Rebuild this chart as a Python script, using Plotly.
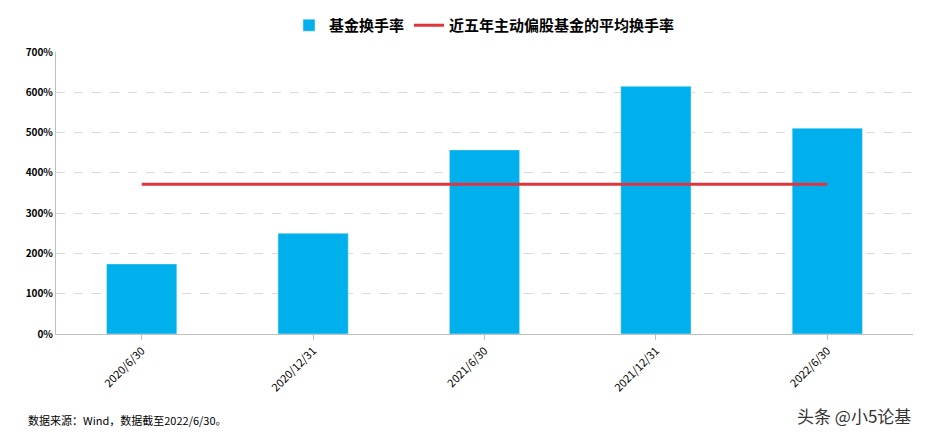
import plotly.graph_objects as go

categories = ["2020/6/30", "2020/12/31", "2021/6/30", "2021/12/31", "2022/6/30"]
turnover = [174, 250, 457, 615, 511]
avg_turnover = [372, 372, 372, 372, 372]
tick_vals = [0, 100, 200, 300, 400, 500, 600, 700]
tick_text = ["<b>0%</b>", "<b>100%</b>", "<b>200%</b>", "<b>300%</b>", "<b>400%</b>", "<b>500%</b>", "<b>600%</b>", "<b>700%</b>"]

fig = go.Figure()
fig.add_trace(go.Bar(x=categories, y=turnover, name="<b>基金换手率</b>",
                     marker_color="#00B0EC", width=0.41))
fig.add_trace(go.Scatter(x=categories, y=avg_turnover, mode="lines",
                         name="<b>近五年主动偏股基金的平均换手率</b>",
                         line=dict(color="#E0343F", width=3)))
fig.update_layout(
    width=925, height=437, plot_bgcolor="white", paper_bgcolor="white",
    margin=dict(l=48, r=20, t=44, b=111, autoexpand=False),
    font=dict(family="Noto Sans CJK SC", size=11, color="black"),
    legend=dict(orientation="h", x=0.5, xanchor="center", yref="container", y=0.96, yanchor="middle",
                font=dict(size=15, family="Noto Sans CJK SC"), traceorder="normal"),
    xaxis=dict(tickangle=-45, showline=True, linecolor="#BFBFBF", automargin=False,
               ticks="outside", tickcolor="#BFBFBF", tickfont=dict(size=11)),
    yaxis=dict(range=[0, 700], tickvals=tick_vals, ticktext=tick_text, automargin=False,
               showgrid=True, gridcolor="#D9D9D9", griddash="dash",
               showline=True, linecolor="#BFBFBF",
               tickfont=dict(size=10, family="Noto Sans CJK SC")),
    showlegend=True,
)
fig.add_annotation(text="数据来源：Wind，数据截至2022/6/30。", xref="paper", yref="paper",
                   x=-0.035, y=-0.305, xanchor="left", yanchor="middle", showarrow=False,
                   font=dict(size=11))
fig.add_annotation(text="头条 @小5论基", xref="paper", yref="paper",
                   x=1.0, y=-0.29, xanchor="right", yanchor="middle", showarrow=False,
                   font=dict(size=17, color="#333333"))
fig.write_html("out.html")
